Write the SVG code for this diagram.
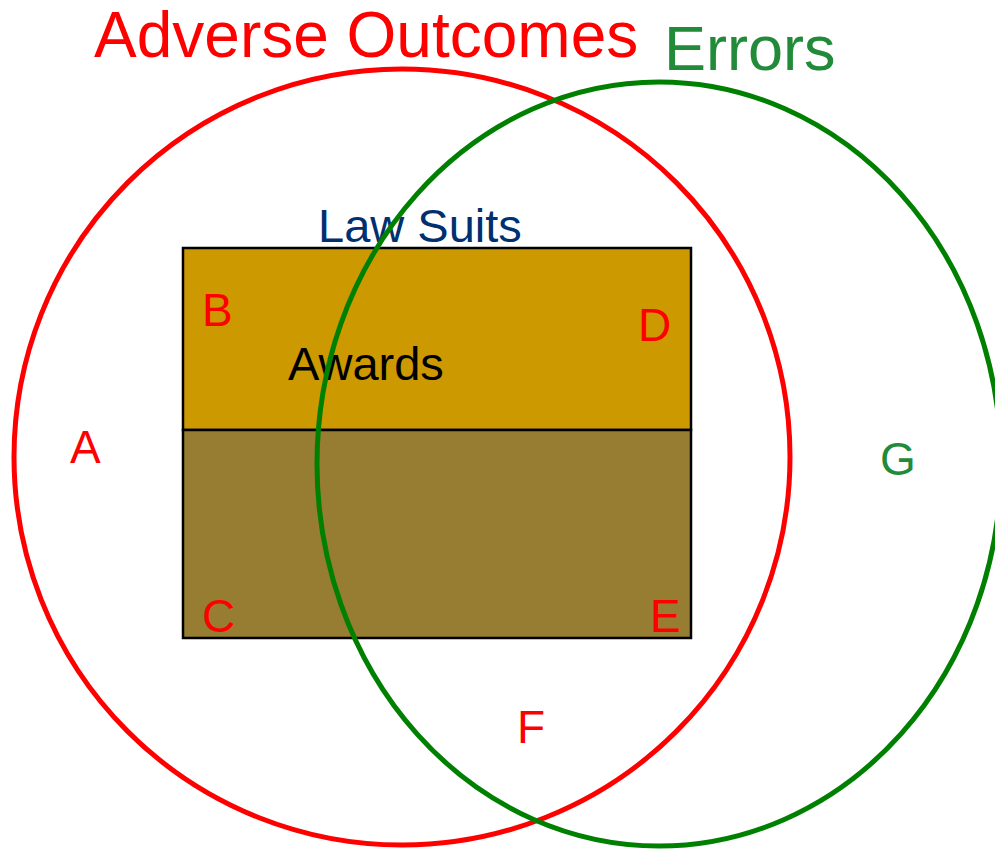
<svg xmlns="http://www.w3.org/2000/svg" width="995" height="849" viewBox="0 0 995 849">
<style>
text { font-family: "Liberation Sans", Arial, sans-serif; }
.lbl { font-size: 46px; fill: #FF0000; }
.ring { fill: none; stroke-width: 5; }
.box { stroke: #000000; stroke-width: 2.5; }
</style>
<rect width="995" height="849" fill="#FFFFFF"/>
<g id="lawsuits">
  <rect class="box" x="183" y="248" width="508" height="182" fill="#CC9900"/>
  <text x="318" y="242" style="font-size:47px;fill:#003070">Law Suits</text>
</g>
<g id="awards">
  <rect class="box" x="183" y="430" width="508" height="208" fill="#967D31"/>
  <text x="288" y="380" style="font-size:47px;fill:#000000">Awards</text>
</g>
<g id="adverse">
  <circle class="ring" cx="402" cy="457" r="388" stroke="#FF0000"/>
  <text x="94" y="57" style="font-size:64px;fill:#FF0000">Adverse Outcomes</text>
</g>
<g id="errors">
  <ellipse class="ring" cx="659" cy="464" rx="342" ry="382" stroke="#008000"/>
  <text x="664" y="70" style="font-size:63px;fill:#228B3A">Errors</text>
</g>
<g id="regions">
  <text class="lbl" x="70" y="463">A</text>
  <text class="lbl" x="202" y="326">B</text>
  <text class="lbl" x="202" y="632">C</text>
  <text class="lbl" x="638" y="341">D</text>
  <text class="lbl" x="650" y="632">E</text>
  <text class="lbl" x="517" y="743">F</text>
  <text x="880" y="475" style="font-size:46px;fill:#228B3A">G</text>
</g>
</svg>
